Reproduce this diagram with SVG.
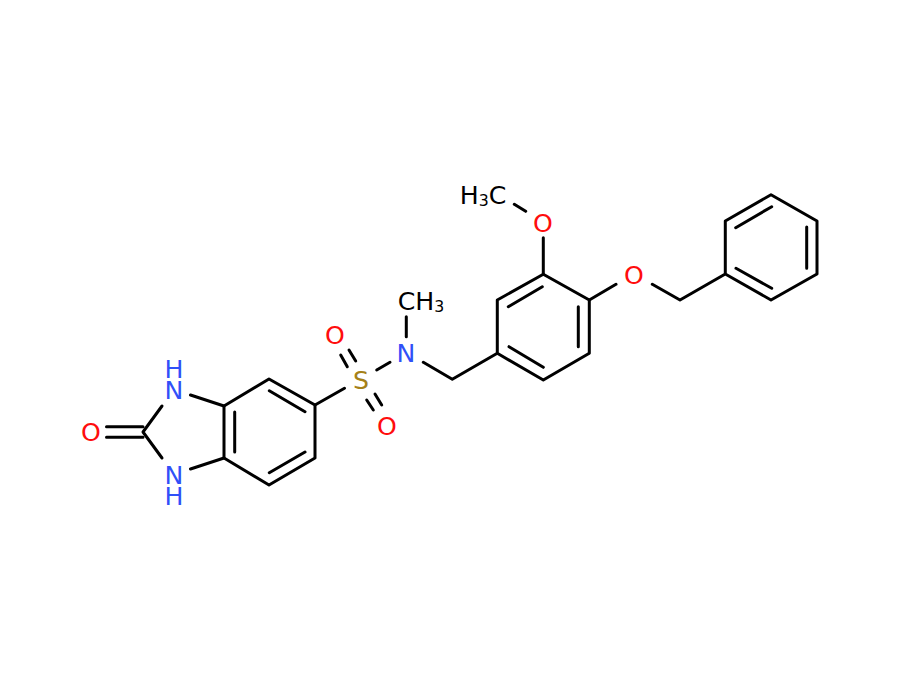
<svg xmlns="http://www.w3.org/2000/svg" width="900" height="680" viewBox="0 0 900 680">
<style>
.b{fill:none;stroke:#000;stroke-width:3;stroke-linecap:round;stroke-linejoin:round}
text{font-family:"DejaVu Sans",sans-serif;font-size:24px;text-anchor:middle}
.o{fill:#ff0d0d}.n{fill:#3050f8}.s{fill:#a58118}.c{fill:#000}
.sub{font-size:15px}
</style>
<rect width="900" height="680" fill="#fff"/>
<g id="connectors" class="b">
<path d="M106.500 426.700H143M106.500 437.300H143"/>
<path d="M162 406L143 432L162 458"/>
<path d="M190.500 395L224 406L269 379L315 405V458L269 485L224 458L190.500 469"/>
<path d="M224 406V458M234.700 412V452M269.300 390.700L305 411.700M269.300 472.700L305 452"/>
<path d="M315 405L344.500 388.300"/>
<path d="M376.700 370L390 362.300"/>
<path d="M340.700 355L347.300 366.700M349 350L355.700 361M366.700 400L373.300 410M375 394L381.700 405"/>
<path d="M406.300 316.700V336.700"/>
<path d="M423.300 362.300L452.300 379.300L497.300 353.300V300L543.300 274.300L589.300 300V353.300L543.300 380L497.300 353.300"/>
<path d="M508.300 306.700L542.300 286.700M578.300 306.700V346.700M509 346.700L543.300 367.300"/>
<path d="M543.300 237.700V274.300M514.300 204.300L525.700 211.300"/>
<path d="M589.300 300L616 284.300M652.300 284.300L680 300L725.300 274V221L771 194.700L817 221V274L771 300L725.300 274"/>
<path d="M735.700 227.700L771.700 206.700M806.700 227V268.300M736 268.300L771.700 288.300"/>
</g>
<g id="atom-O-carbonyl"><text class="o" transform="translate(91 441) scale(1.050 1)">O</text></g>
<g id="atom-NH-top"><text class="n" transform="translate(174 378) scale(1.050 1)">H</text><text class="n" transform="translate(174 399) scale(1.050 1)">N</text></g>
<g id="atom-NH-bottom"><text class="n" transform="translate(174 484) scale(1.050 1)">N</text><text class="n" transform="translate(174 504.500) scale(1.050 1)">H</text></g>
<g id="atom-S"><text class="s" transform="translate(361 388.500) scale(1.050 1)">S</text></g>
<g id="atom-O-sulfonyl-top"><text class="o" transform="translate(335 343.500) scale(1.050 1)">O</text></g>
<g id="atom-O-sulfonyl-bottom"><text class="o" transform="translate(387 434.500) scale(1.050 1)">O</text></g>
<g id="atom-N"><text class="n" transform="translate(406 362) scale(1.050 1)">N</text></g>
<g id="atom-CH3-N"><text class="c" transform="translate(421 310) scale(1.050 1)">CH<tspan class="sub" dy="2">3</tspan></text></g>
<g id="atom-O-methoxy"><text class="o" transform="translate(543 231.500) scale(1.050 1)">O</text></g>
<g id="atom-H3C"><text class="c" transform="translate(483 204) scale(1.050 1)">H<tspan class="sub" dy="2">3</tspan><tspan dy="-2">C</tspan></text></g>
<g id="atom-O-benzyl"><text class="o" transform="translate(634 283.500) scale(1.050 1)">O</text></g>
</svg>
